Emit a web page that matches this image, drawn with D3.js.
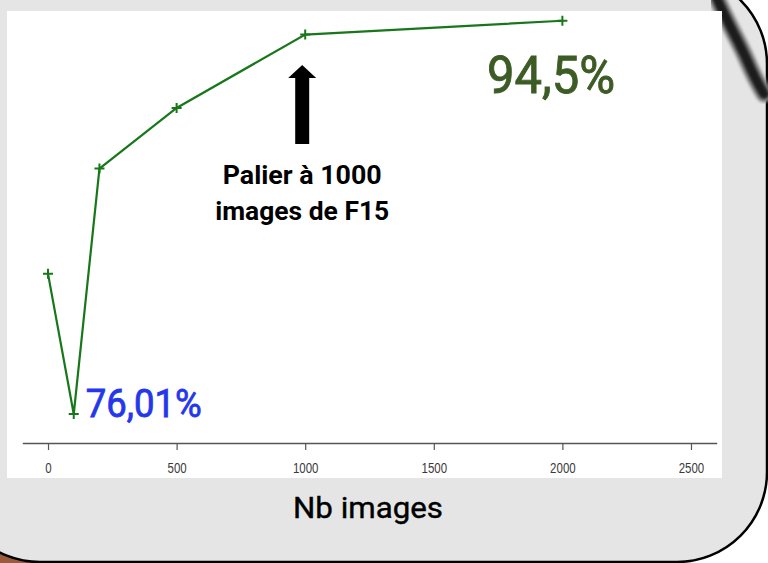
<!DOCTYPE html>
<html>
<head>
<meta charset="utf-8">
<script src="https://cdn.jsdelivr.net/npm/d3@7"></script>
<style>
  html, body { margin: 0; padding: 0; background: #ffffff; }
  svg { display: block; }
</style>
</head>
<body>
<div id="chart"></div>
<script>
// données
var nbImages = [0, 100, 200, 500, 1000, 2000];
var precision = [82.6, 76.01, 87.55, 90.4, 93.85, 94.5];
var xTicks = [0, 500, 1000, 1500, 2000, 2500];
var labelMin = "76,01%";
var labelMax = "94,5%";
var notes = ["Palier à 1000", "images de F15"];
var xTitle = "Nb images";

var W = 768, H = 563;
var svg = d3.select("#chart").append("svg")
    .attr("width", W)
    .attr("height", H);

// fond : coin brun en bas à gauche
svg.append("rect").attr("x", 0).attr("y", 0).attr("width", W).attr("height", H).attr("fill", "#ffffff");
svg.append("rect").attr("x", 0).attr("y", 500).attr("width", 120).attr("height", 63).attr("fill", "#9b5c3e");

// cadre arrondi gris
svg.append("rect")
    .attr("x", -50).attr("y", -26)
    .attr("width", 817).attr("height", 588)
    .attr("rx", 90).attr("ry", 90)
    .attr("fill", "#e5e5e5")
    .attr("stroke", "#000")
    .attr("stroke-width", 2.5);

// trait "pinceau" en haut à droite
var defs = svg.append("defs");
defs.append("filter").attr("id", "flou")
    .append("feGaussianBlur").attr("stdDeviation", 1.4);
var brush = "M716,-4 C726,20 738,40 746,58 C752,72 758,84 764,94";
svg.append("path").attr("d", brush).attr("fill", "none")
    .attr("stroke", "#8a8a8a").attr("stroke-width", 17).attr("stroke-linecap", "round").attr("filter", "url(#flou)");
svg.append("path").attr("d", brush).attr("fill", "none")
    .attr("stroke", "#1a1a1a").attr("stroke-width", 10).attr("stroke-linecap", "round").attr("filter", "url(#flou)");

// zone blanche du graphique
svg.append("rect")
    .attr("x", 7).attr("y", 11)
    .attr("width", 715).attr("height", 467)
    .attr("fill", "#ffffff");

// échelles
var x = d3.scaleLinear().domain([-100, 2600]).range([22.3, 716.7]);
var y = d3.scaleLinear().domain([75, 95]).range([435.5, 10.1]);

// axe des x
var axis = svg.append("g")
    .attr("transform", "translate(0,443)")
    .call(d3.axisBottom(x).tickValues(xTicks).tickFormat(d3.format("d"))
        .tickSize(7).tickSizeOuter(0).tickPadding(13));
axis.select(".domain").attr("stroke", "#555").attr("stroke-width", 1.4);
axis.selectAll(".tick line").attr("stroke", "#555").attr("stroke-width", 1.2);
axis.selectAll(".tick text")
    .attr("fill", "#3a3a3a")
    .attr("font-family", "'Liberation Sans', Arial, sans-serif")
    .attr("font-size", 14)
    .attr("transform", "scale(0.82,1)");

// courbe
var line = d3.line()
    .x(function (d, i) { return x(nbImages[i]); })
    .y(function (d) { return y(d); });
svg.append("path")
    .datum(precision)
    .attr("d", line)
    .attr("fill", "none")
    .attr("stroke", "#17771a")
    .attr("stroke-width", 2.2);

// marqueurs +
svg.selectAll(".pt")
    .data(precision)
    .enter()
    .append("path")
    .attr("class", "pt")
    .attr("transform", function (d, i) { return "translate(" + x(nbImages[i]) + "," + y(d) + ")"; })
    .attr("d", "M-5,0H5M0,-5V5")
    .attr("stroke", "#17771a")
    .attr("stroke-width", 2);

// étiquettes min / max
var fontDin = "Roboto, 'DejaVu Sans Condensed', sans-serif";
svg.append("text")
    .attr("x", x(nbImages[1]) + 12)
    .attr("y", y(precision[1]) + 3)
    .attr("font-family", fontDin)
    .attr("font-size", 38)
    .attr("fill", "#2437ec")
    .attr("stroke", "#2437ec")
    .attr("stroke-width", 0.8)
    .attr("textLength", 116)
    .attr("lengthAdjust", "spacingAndGlyphs")
    .text(labelMin);

svg.append("text")
    .attr("x", 487)
    .attr("y", 93)
    .attr("font-family", fontDin)
    .attr("font-size", 51)
    .attr("fill", "#3d5c25")
    .attr("stroke", "#3d5c25")
    .attr("stroke-width", 0.9)
    .attr("textLength", 128)
    .attr("lengthAdjust", "spacingAndGlyphs")
    .text(labelMax);

// flèche "palier"
var ax = x(1000) - 3;
svg.append("path")
    .attr("d", "M" + ax + ",65 L" + (ax + 14) + ",78 L" + (ax + 7) + ",78 L" + (ax + 7) + ",144 L" + (ax - 7) + ",144 L" + (ax - 7) + ",78 L" + (ax - 14) + ",78 Z")
    .attr("fill", "#000");

var noteW = [159, 174];
svg.selectAll(".note")
    .data(notes)
    .enter()
    .append("text")
    .attr("class", "note")
    .attr("x", ax)
    .attr("y", function (d, i) { return 184 + i * 36; })
    .attr("text-anchor", "middle")
    .attr("font-family", fontDin)
    .attr("font-weight", "bold")
    .attr("font-size", 26)
    .attr("fill", "#000")
    .attr("textLength", function (d, i) { return noteW[i]; })
    .attr("lengthAdjust", "spacingAndGlyphs")
    .text(function (d) { return d; });

// titre de l'axe
svg.append("text")
    .attr("x", 368)
    .attr("y", 518)
    .attr("text-anchor", "middle")
    .attr("font-family", fontDin)
    .attr("font-size", 30)
    .attr("fill", "#000")
    .attr("stroke", "#000")
    .attr("stroke-width", 0.4)
    .attr("textLength", 150)
    .attr("lengthAdjust", "spacingAndGlyphs")
    .text(xTitle);
</script>
</body>
</html>
